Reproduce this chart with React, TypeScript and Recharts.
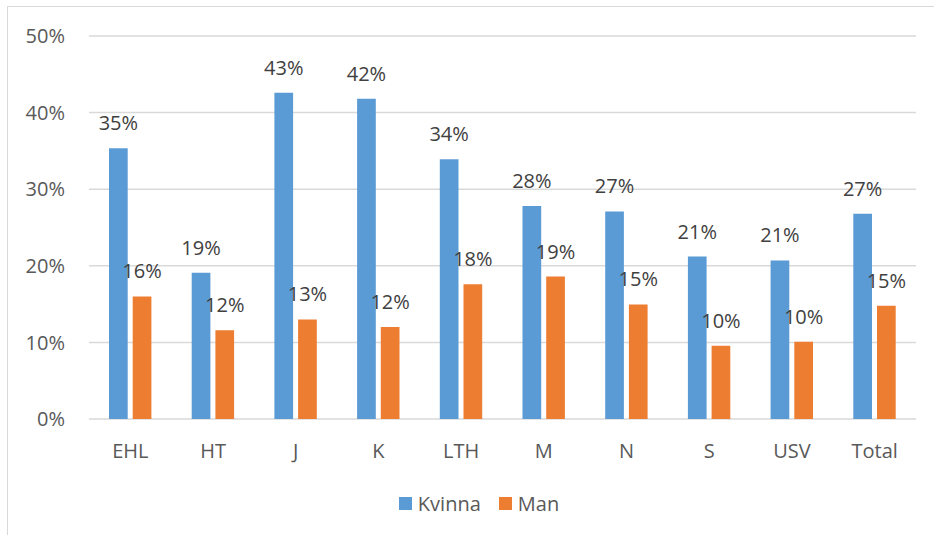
import React from 'react';
import { BarChart, Bar, XAxis, YAxis, CartesianGrid, Legend, LabelList } from 'recharts';

const categories = ['EHL', 'HT', 'J', 'K', 'LTH', 'M', 'N', 'S', 'USV', 'Total'];
const kvinna = [35.35, 19.1, 42.6, 41.8, 33.9, 27.8, 27.1, 21.2, 20.7, 26.8];
const man = [16.0, 11.6, 13.0, 12.0, 17.6, 18.6, 14.95, 9.55, 10.07, 14.77];
const yTicks = [0, 10, 20, 30, 40, 50];
const seriesNames = ['Kvinna', 'Man'];
const colors = ['#5B9BD5', '#ED7D31'];

const data = categories.map((c, i) => ({ name: c, Kvinna: kvinna[i], Man: man[i] }));

const FONT = '"Open Sans", "Noto Sans", sans-serif';
const FS = 20;

const fmt = (v: any) => `${Math.round(Number(v))}%`;

const LegendContent = () => (
  <div
    style={{
      height: 40,
      display: 'flex',
      alignItems: 'center',
      justifyContent: 'center',
      fontFamily: FONT,
      fontSize: FS,
      color: '#595959',
      paddingLeft: 42,
      boxSizing: 'border-box',
    }}
  >
    {seriesNames.map((n, i) => (
      <div key={n} style={{ display: 'flex', alignItems: 'center', marginLeft: i ? 18 : 0 }}>
        <div style={{ width: 13, height: 13, background: colors[i], marginRight: 6 }} />
        <span>{n}</span>
      </div>
    ))}
  </div>
);

export default function App() {
  return (
    <div
      style={{
        position: 'absolute',
        left: 0,
        top: 0,
        width: 934,
        height: 535,
        overflow: 'hidden',
        background: '#fff',
      }}
    >
      <div
        style={{
          position: 'absolute',
          left: 7,
          top: 6,
          width: 1000,
          height: 700,
          border: '1.5px solid #d9d9d9',
          boxSizing: 'border-box',
        }}
      />
      <div style={{ position: 'absolute', left: 0, top: 0 }}>
        <BarChart
          width={934}
          height={535}
          data={data}
          margin={{ top: 36, right: 18, left: 0, bottom: 12 }}
          barSize={18.7}
          barGap={5}
        >
          <CartesianGrid vertical={false} stroke="#d9d9d9" strokeWidth={1.5} />
          <XAxis
            dataKey="name"
            axisLine={false}
            tickLine={false}
            height={64}
            tickMargin={19}
            interval={0}
            tick={{ fill: '#595959', fontSize: FS, fontFamily: FONT }}
          />
          <YAxis
            width={89}
            domain={[0, 50]}
            ticks={yTicks}
            axisLine={false}
            tickLine={false}
            tickMargin={18}
            tickFormatter={(v: number) => `${v}%`}
            tick={{ fill: '#595959', fontSize: FS, fontFamily: FONT }}
          />
          <Legend verticalAlign="bottom" content={<LegendContent />} height={40} />
          <Bar dataKey="Kvinna" fill={colors[0]} isAnimationActive={false}>
            <LabelList
              dataKey="Kvinna"
              position="top"
              offset={18}
              formatter={fmt}
              style={{ fill: '#404040', fontSize: FS, fontFamily: FONT }}
            />
          </Bar>
          <Bar dataKey="Man" fill={colors[1]} isAnimationActive={false}>
            <LabelList
              dataKey="Man"
              position="top"
              offset={18}
              formatter={fmt}
              style={{ fill: '#404040', fontSize: FS, fontFamily: FONT }}
            />
          </Bar>
        </BarChart>
      </div>
    </div>
  );
}
